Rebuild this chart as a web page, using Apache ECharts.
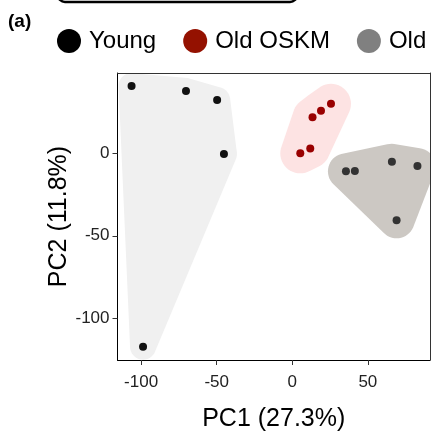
<!DOCTYPE html>
<html>
<head>
<meta charset="utf-8">
<script src="https://cdn.jsdelivr.net/npm/echarts@6/dist/echarts.min.js"></script>
<style>
  html, body { margin: 0; padding: 0; background: #fff; }
  #chart { width: 433px; height: 431px; }
</style>
</head>
<body>
<div id="chart"></div>
<script>
// PCA scores
const groupNames = ['Young', 'Old OSKM', 'Old'];
const youngX = [-106.3, -70.3, -49.7, -45.2, -98.7];
const youngY = [40.8, 37.8, 32.3, -0.4, -117.2];
const oskmX = [5.3, 11.9, 13.4, 19.0, 25.6];
const oskmY = [0.0, 3.0, 21.8, 25.8, 30.0];
const oldX = [35.5, 41.4, 65.9, 82.8, 69.0];
const oldY = [-10.9, -10.7, -5.1, -7.7, -40.6];
const xTicks = [-100, -50, 0, 50];
const yTicks = [-100, -50, 0];

const groupPts = [
  { x: youngX, y: youngY },
  { x: oskmX, y: oskmY },
  { x: oldX, y: oldY }
];
const pointColors = ['#111111', '#990000', '#333333'];
const legendColors = ['#000000', '#941100', '#808080'];
const hullFills = ['#f0f0f0', '#fde3e3', '#ccc8c3'];
const hullPad = [13, 20, 18];

const font = 'Liberation Sans, Arial, sans-serif';

// convex hull, monotone chain
function convexHull(points) {
  const p = points.slice().sort((a, b) => a[0] - b[0] || a[1] - b[1]);
  const cross = (o, a, b) => (a[0] - o[0]) * (b[1] - o[1]) - (a[1] - o[1]) * (b[0] - o[0]);
  const lower = [];
  for (const q of p) {
    while (lower.length >= 2 && cross(lower[lower.length - 2], lower[lower.length - 1], q) <= 0) lower.pop();
    lower.push(q);
  }
  const upper = [];
  for (let i = p.length - 1; i >= 0; i--) {
    const q = p[i];
    while (upper.length >= 2 && cross(upper[upper.length - 2], upper[upper.length - 1], q) <= 0) upper.pop();
    upper.push(q);
  }
  upper.pop();
  lower.pop();
  return lower.concat(upper);
}

// hull grown by a circle of radius pad round every point
function paddedHull(pts, pad) {
  const ring = [];
  pts.forEach(p => {
    for (let k = 0; k < 48; k++) {
      const a = (k / 48) * Math.PI * 2;
      ring.push([p[0] + pad * Math.cos(a), p[1] + pad * Math.sin(a)]);
    }
  });
  return convexHull(ring);
}

const chart = echarts.init(document.getElementById('chart'));

const scatterSeries = groupNames.map((name, i) => ({
  name: name,
  type: 'scatter',
  symbolSize: 8,
  z: 3,
  itemStyle: { color: pointColors[i], opacity: 1 },
  data: groupPts[i].x.map((x, k) => [x, groupPts[i].y[k]])
}));

const axisBase = {
  type: 'value',
  splitLine: { show: false },
  nameMoveOverlap: false,
  z: 10
};

chart.setOption({
  animation: false,
  backgroundColor: '#fff',
  textStyle: { fontFamily: font },
  graphic: [
    {
      type: 'rect',
      shape: { x: 58, y: -20, width: 239, height: 22, r: 7 },
      style: { fill: 'none', stroke: '#000', lineWidth: 2.5 }
    },
    {
      type: 'text',
      left: 8,
      top: 12,
      style: { text: '(a)', font: 'bold 19px ' + font, fill: '#000' }
    }
  ],
  legend: {
    data: groupNames.map((n, i) => ({ name: n, itemStyle: { color: legendColors[i] } })),
    icon: 'circle',
    left: 52,
    top: 24,
    itemWidth: 30,
    itemHeight: 24,
    itemGap: 27,
    selectedMode: false,
    textStyle: { fontSize: 24, color: '#000', fontFamily: font }
  },
  grid: { left: 117.5, right: 3, top: 73, bottom: 71, outerBoundsMode: 'none' },
  xAxis: [
    Object.assign({}, axisBase, {
      min: -115.6,
      max: 91.1,
      name: 'PC1 (27.3%)',
      nameLocation: 'middle',
      nameGap: 47,
      nameTextStyle: { fontSize: 25, color: '#000', fontFamily: font },
      axisLine: { show: true, onZero: false, lineStyle: { color: '#000', width: 1 } },
      axisTick: { show: true, length: 5, customValues: xTicks, lineStyle: { color: '#333' } },
      axisLabel: { customValues: xTicks, fontSize: 17, color: '#222', margin: 14 }
    }),
    Object.assign({}, axisBase, {
      position: 'top',
      min: -115.6,
      max: 91.1,
      axisLine: { show: true, onZero: false, lineStyle: { color: '#333', width: 1 } },
      axisTick: { show: false },
      axisLabel: { show: false }
    })
  ],
  yAxis: [
    Object.assign({}, axisBase, {
      min: -125.3,
      max: 48.7,
      name: 'PC2 (11.8%)',
      nameLocation: 'middle',
      nameGap: 46,
      nameTextStyle: { fontSize: 25, color: '#000', fontFamily: font },
      axisLine: { show: true, onZero: false, lineStyle: { color: '#000', width: 1 } },
      axisTick: { show: true, length: 5, customValues: yTicks, lineStyle: { color: '#333' } },
      axisLabel: { customValues: yTicks, fontSize: 17, color: '#222', margin: 8 }
    }),
    Object.assign({}, axisBase, {
      position: 'right',
      min: -125.3,
      max: 48.7,
      axisLine: { show: true, onZero: false, lineStyle: { color: '#333', width: 1 } },
      axisTick: { show: false },
      axisLabel: { show: false }
    })
  ],
  series: [
    {
      type: 'custom',
      name: 'hulls',
      coordinateSystem: 'cartesian2d',
      silent: true,
      clip: true,
      z: 1,
      data: [[0, 0], [1, 0], [2, 0]],
      renderItem: function (params, api) {
        const g = groupPts[params.dataIndex];
        const pts = g.x.map((x, k) => api.coord([x, g.y[k]]));
        return {
          type: 'polygon',
          shape: { points: paddedHull(pts, hullPad[params.dataIndex]) },
          style: { fill: hullFills[params.dataIndex] }
        };
      }
    }
  ].concat(scatterSeries)
});
</script>
</body>
</html>
